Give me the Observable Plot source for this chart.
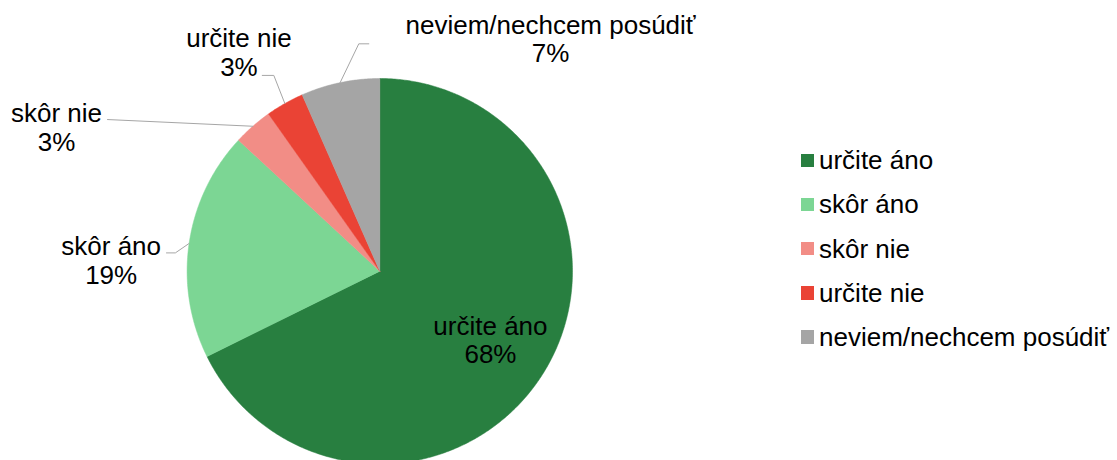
<!DOCTYPE html>
<html><head><meta charset="utf-8">
<script src="https://cdn.jsdelivr.net/npm/d3@7"></script>
<script src="https://cdn.jsdelivr.net/npm/@observablehq/plot@0.6"></script>
<style>
html,body{margin:0;padding:0;background:#fff;overflow:hidden;}
#wrap{position:relative;width:1117px;height:460px;overflow:hidden;font-family:"Liberation Sans",Arial,sans-serif;}
#chart{position:absolute;left:0;top:0;}
#legend{position:absolute;left:800.7px;top:138.2px;font-size:26px;color:#000;}
.row{height:44.2px;line-height:44.2px;white-space:nowrap;}
.sw{display:inline-block;width:13.3px;height:13.3px;vertical-align:middle;position:relative;top:-2px;margin-right:5px;}
</style>
</head><body>
<div id="wrap"><div id="chart"></div><div id="legend"></div></div>
<script>
// ---- data ----
const categories = ["určite áno", "skôr áno", "skôr nie", "určite nie", "neviem/nechcem posúdiť"];
const values = [67.7, 19.2, 3.3, 3.2, 6.6];
const percentLabels = ["68%", "19%", "3%", "3%", "7%"];
const colors = ["#287F40", "#7CD694", "#F28D86", "#EA4335", "#A5A5A5"];

// ---- annotation layout (pie-radius units, y up, origin at pie centre) ----
const labelAnchors = [null, [-1.394, 0.056], [-1.678, 0.746], [-0.731, 1.137], [0.886, 1.206]];
const insideRadius = 0.676;
const leaderStarts = [null, [[-1.107, 0.095], [-1.061, 0.095]], [[-1.413, 0.787]], [[-0.610, 1.016], [-0.550, 1.016]], [[-0.057, 1.180], [-0.109, 1.180]]];

const arcs = d3.pie().sort(null).value(d => d)(values);
const pt = (a, r) => ({x: r * Math.sin(a), y: r * Math.cos(a)});

const slices = arcs.map((a, i) => {
  const pts = [{x: 0, y: 0}];
  const n = Math.max(2, Math.ceil((a.endAngle - a.startAngle) / (Math.PI / 360)));
  for (let k = 0; k <= n; k++) pts.push(pt(a.startAngle + (a.endAngle - a.startAngle) * k / n, 1));
  pts.push({x: 0, y: 0});
  return pts;
});

const labels = arcs.map((a, i) => {
  const mid = (a.startAngle + a.endAngle) / 2;
  const p = labelAnchors[i] ? {x: labelAnchors[i][0], y: labelAnchors[i][1]} : pt(mid, insideRadius);
  return {...p, text: categories[i] + "\n" + percentLabels[i]};
});

const leaders = [];
arcs.forEach((a, i) => {
  if (!leaderStarts[i]) return;
  const mid = (a.startAngle + a.endAngle) / 2;
  leaderStarts[i].forEach(([x, y]) => leaders.push({x, y, k: i}));
  leaders.push({...pt(mid, 1), k: i});
});

const font = "'Liberation Sans', Arial, sans-serif";
const plot = Plot.plot({
  width: 1117,
  height: 460,
  margin: 0,
  style: {background: "transparent", fontFamily: font, overflow: "hidden"},
  x: {domain: [-1, 1], range: [186.6, 572], axis: null},
  y: {domain: [-1, 1], range: [463.4, 78], axis: null},
  marks: [
    ...slices.map((s, i) => Plot.line(s, {x: "x", y: "y", fill: colors[i], stroke: colors[i], strokeWidth: 0.5, curve: "linear"})),
    Plot.line(leaders, {x: "x", y: "y", z: "k", stroke: "#A6A6A6", strokeWidth: 1}),
    Plot.text(labels, {x: "x", y: "y", text: "text", fontSize: 26, lineHeight: 1.1, fill: "#000", fontFamily: font, textAnchor: "middle"})
  ]
});
document.getElementById("chart").appendChild(plot);

const legend = document.getElementById("legend");
categories.forEach((c, i) => {
  const row = document.createElement("div");
  row.className = "row";
  const sw = document.createElement("span");
  sw.className = "sw";
  sw.style.background = colors[i];
  row.appendChild(sw);
  row.appendChild(document.createTextNode(c));
  legend.appendChild(row);
});
</script>
</body></html>
